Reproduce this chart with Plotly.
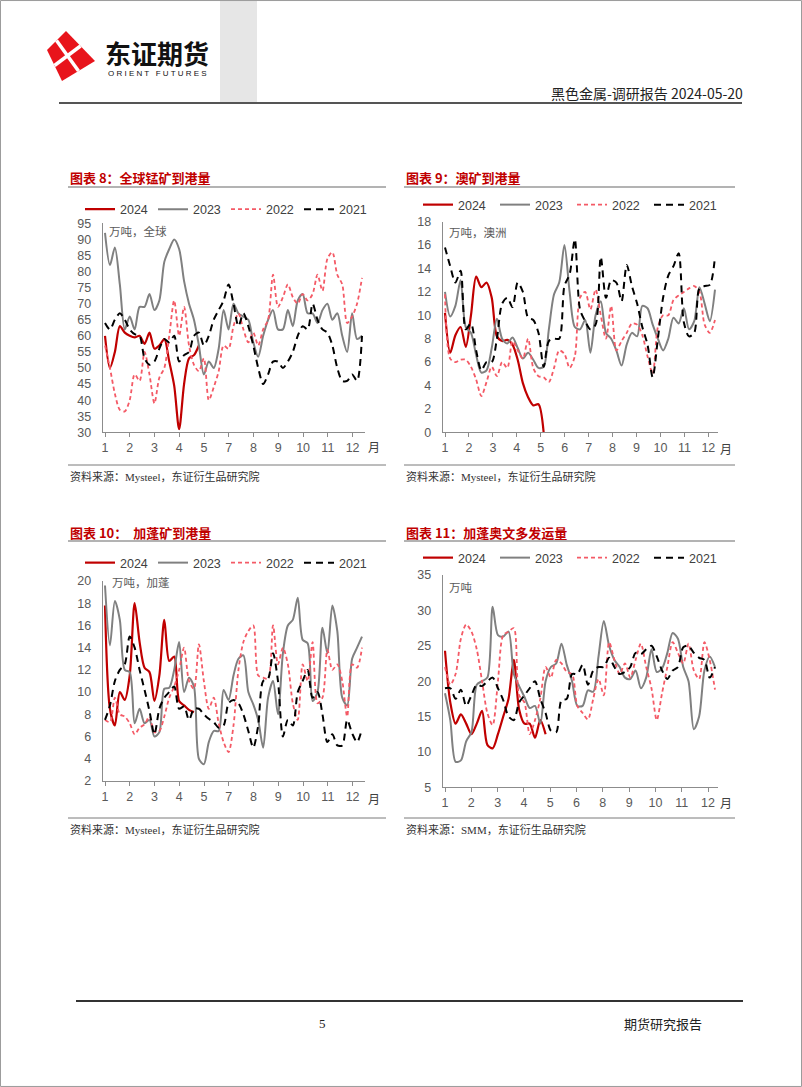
import numpy as np
import plotly.graph_objects as go

W, H = 802, 1087
SERIES = ["2024", "2023", "2022", "2021"]

# ---------------- data ----------------
c1_labels = ["1", "2", "3", "4", "5", "7", "8", "9", "10", "11", "12"]
c1_2024 = [60, 50, 55, 63, 61, 60, 59.5, 60, 57.5, 61, 56, 57, 59, 52, 44.5, 31, 45, 53, 54, 57]
c1_2023 = [92, 82, 87.5, 76, 62, 66, 62, 69, 69, 73,
           68, 71, 83, 87, 90, 87, 77, 70, 65, 57,
           48, 52, 50, 56, 68, 62, 70, 67, 66, 65,
           58, 53.5, 60, 65, 68, 62, 62, 68, 63, 71,
           73, 67, 67, 64, 68, 70, 65, 67, 60, 55,
           67, 59, 60]
c1_2022 = [57, 50, 42, 37, 36.5, 40, 48, 46, 55, 48,
           39, 47, 50, 60, 71, 60, 69, 57, 51, 49,
           53, 40, 44, 49, 57, 56, 63, 67, 62, 58,
           61, 57, 62, 65, 79, 69, 72, 76, 72, 70,
           73, 71, 73, 79, 74, 84, 86, 79, 76, 64,
           66, 70, 78]
c1_2021 = [64, 62, 65, 67, 65, 62, 60.5, 60, 53, 51,
           52, 56, 59, 58, 60, 52, 54, 55, 60, 61,
           57, 60, 65, 68, 71, 76, 70, 63, 67, 63,
           57, 50, 45, 48, 52, 52, 50, 52, 55, 60,
           63, 62, 70, 65, 62, 61, 57, 50, 46, 46,
           48, 46, 60]

c2_labels = ["1", "2", "3", "4", "5", "6", "7", "8", "9", "10", "11", "12"]
c2_2024 = [10.2, 6.8, 8.3, 9, 7.3, 10, 13.3, 12.4, 12.8, 11.5, 8.2, 7.8, 7.9, 7.5, 6.2, 4.2, 3, 2.3, 2.4, 0]
c2_2023 = [12, 9.9, 10.8, 13, 9, 8.5, 6.6, 5.1, 5.3, 7.2,
           9.7, 8, 7.6, 8.1, 7.2, 6.3, 6.8, 6.2, 5.5, 5.6,
           8.8, 11.8, 12.8, 16, 12, 9, 8.8, 9.6, 6.8, 10,
           11.2, 8.5, 8, 7, 5.7, 7.5, 8.5, 8.2, 10.8, 10.6,
           9.2, 8, 7, 8, 9.8, 9.3, 10.6, 8.8, 9.5, 12.4,
           11, 9.5, 12.2]
c2_2022 = [11.8, 6.3, 6, 6.2, 6.2, 5.6, 4.5, 3.1, 4.3, 5.6,
           4.8, 6, 5.5, 7.8, 7, 6.3, 8, 5.5, 4.8, 4.7,
           4.3, 5.5, 7, 6.7, 5.5, 6.5, 11.5, 12, 10.5, 12.2,
           10, 8, 10.8, 7, 7.8, 8.5, 9.3, 9.2, 8.3, 6.5,
           5, 9, 10, 10, 11.3, 11.7, 12, 12.3, 12.5, 12,
           9.2, 8.5, 9.6]
c2_2021 = [15.8, 14.2, 12.8, 13.8, 8.8, 9.3, 7, 5.3, 6, 6,
           8, 11, 11.5, 10.7, 12.8, 12, 9.8, 9.6, 8.5, 5.6,
           7.8, 8, 8, 12.5, 13.5, 16.5, 10.5, 9.5, 8.8, 9.2,
           15, 11.5, 13, 12.8, 11.2, 14.3, 12.5, 11, 9, 7.5,
           4.7, 8, 11.5, 13.4, 14.2, 15.3, 9.4, 8.2, 8.5, 12.3,
           12.5, 12.6, 15]

c3_labels = ["1", "2", "3", "4", "5", "7", "8", "9", "10", "11", "12"]
c3_2024 = [17.8, 8.5, 7, 10, 9.3, 11.5, 18, 14.5, 12.2, 11.8, 9.2, 11.5, 16.5, 12.8, 13.2, 9.2, 8.8, 8.4, 8.2]
c3_2023 = [19.6, 14.2, 18.2, 16.5, 12, 11.8, 7.2, 8.5, 7.2, 7.5,
           6, 6.4, 10.3, 10.4, 12, 14.5, 10, 11.3, 10.5, 4,
           3.5, 5.5, 6.5, 6.5, 10.2, 9.3, 11.5, 13, 13.3, 10,
           8.9, 7.5, 5, 9.5, 11, 8, 13.5, 16, 16.5, 18.5,
           14.7, 14.4, 9.2, 10, 15.8, 13.5, 17.8, 15.5, 9.5, 8.8,
           13, 14, 15]
c3_2022 = [7.5, 7.3, 9.5, 8, 7.8, 7.2, 6.2, 6.8, 7.1, 7.8,
           6.4, 6.5, 7.8, 9.5, 10.5, 12, 14, 11, 10.3, 14.3,
           11, 8.5, 9.5, 7.2, 5.5, 4.6, 7, 12, 14.5, 15.5,
           16, 11.5, 11.3, 11.2, 16, 12.5, 14, 12.5, 9, 7.5,
           12.5, 11, 14.5, 9, 9.5, 13.8, 12, 12.5, 11, 7.8,
           12.5, 12.2, 14]
c3_2021 = [7.5, 8.8, 11, 12, 12.5, 15, 14, 12, 10.2, 8.3,
           6.2, 8.5, 9.5, 10, 10.5, 8.5, 8.7, 7.5, 8.5, 8.5,
           8, 7.6, 7.3, 6.8, 7, 9, 9.3, 9, 8, 6.5,
           5, 7, 11, 11.2, 13.5, 11, 6, 7.5, 7, 10,
           11, 12, 9.5, 10, 8, 5.5, 6.2, 5.2, 5.2, 7.5,
           6.3, 5.5, 6.7]

c4_labels = ["1", "2", "3", "4", "5", "6", "8", "9", "10", "11", "12"]
c4_2024 = [24.3, 17, 14, 15.3, 14, 12.5, 14, 15.8, 11, 10.5, 12.5, 15, 17.5, 23, 16, 14, 14, 12, 14.5, 12.5]
c4_2023 = [18.3, 14.5, 8.6, 8.8, 11.5, 12.8, 19.5, 20, 20.5, 30.5,
           26.5, 26.3, 27, 21, 19.3, 17.8, 16.2, 16.5, 14, 20,
           22, 22.5, 25.3, 22.3, 20, 16.5, 16.5, 18.7, 18.5, 23.5,
           28.5, 25, 23, 22, 20.5, 20.3, 21.5, 19, 20.5, 24.5,
           21.3, 21.8, 24, 26.8, 26, 22, 20, 13.2, 15, 21.5,
           23.5, 22]
c4_2022 = [22, 19.5, 21, 26, 28, 27, 24.5, 20, 15.5, 13.8,
           20, 26.5, 27, 27.5, 18, 17, 12.5, 14.5, 17.5, 22,
           20.5, 23, 22.5, 21.3, 21, 16.5, 15.5, 14.6, 17.5, 20.3,
           18, 25.5, 23, 21, 22.5, 20.5, 23, 25.3, 22, 19,
           14.5, 18.3, 22, 25.5, 24, 22.5, 25.3, 21.5, 20.3, 25.5,
           23, 18.8]
c4_2021 = [19, 19, 17.5, 18.8, 16.5, 18, 19.5, 19.3, 20, 20.5,
           19, 17.3, 15, 14.5, 17, 18, 19, 20, 17.5, 15.5,
           13, 12.8, 17.3, 17.5, 21, 21, 22.3, 19.5, 21.5, 22,
           22, 23.3, 22, 21, 21.3, 22, 24, 23.8, 24.5, 25,
           23.5, 21.5, 20.3, 21.5, 22, 24.8, 25, 24, 23.3, 23,
           20.5, 22]

titles = ["图表 8：全球锰矿到港量", "图表 9：澳矿到港量", "图表 10：  加蓬矿到港量", "图表 11：加蓬奥文多发运量"]
sources = ["资料来源：Mysteel，东证衍生品研究院", "资料来源：Mysteel，东证衍生品研究院",
           "资料来源：Mysteel，东证衍生品研究院", "资料来源：SMM，东证衍生品研究院"]
units = ["万吨，全球", "万吨，澳洲", "万吨，加蓬", "万吨"]


def px(x):
    return x / W


def py(y):
    return 1 - y / H


STY = {
    "2024": dict(color="#C00000", width=2.2),
    "2023": dict(color="#808080", width=2.0),
    "2022": dict(color="#F45A66", width=1.8, dash="4px,3px"),
    "2021": dict(color="#000000", width=2.0, dash="7px,5px"),
}

# layout geometry (pixels)
charts = [
    dict(series=[c1_2024, c1_2023, c1_2022, c1_2021], labels=c1_labels, npts=53,
         xl=102.7, xr=365, x0=105, x1=362, lab_sp=24.76, yt=223.3, yb=432.3,
         yr=(30, 95), dt=5, leg=(80, 209.5), ew=28, unit=(107, 231), month=(366, 446)),
    dict(series=[c2_2024, c2_2023, c2_2022, c2_2021], labels=c2_labels, npts=53,
         xl=442.7, xr=718, x0=445, x1=715, lab_sp=23.94, yt=221.7, yb=432.3,
         yr=(0, 18), dt=2, leg=(418, 205), ew=32, unit=(447, 232), month=(718, 448)),
    dict(series=[c3_2024, c3_2023, c3_2022, c3_2021], labels=c3_labels, npts=53,
         xl=102.7, xr=365, x0=105, x1=362, lab_sp=24.76, yt=581, yb=781,
         yr=(2, 20), dt=2, leg=(80, 563), ew=28, unit=(110, 582), month=(366, 798)),
    dict(series=[c4_2024, c4_2023, c4_2022, c4_2021], labels=c4_labels, npts=52,
         xl=442.7, xr=718, x0=445, x1=715, lab_sp=26.3, yt=575, yb=787.3,
         yr=(5, 35), dt=5, leg=(418, 558), ew=32, unit=(447, 587), month=(718, 802)),
]

fig = go.Figure()
TICKFONT = dict(family="Liberation Sans, Arial", size=12.5, color="#595959")
layout = dict(width=W, height=H, autosize=False,
              margin=dict(l=0, r=0, t=0, b=0, pad=0, autoexpand=False),
              paper_bgcolor="white", plot_bgcolor="rgba(0,0,0,0)", showlegend=True)
annotations = []
shapes = []

for k, c in enumerate(charts, start=1):
    sfx = "" if k == 1 else str(k)
    step = (c["x1"] - c["x0"]) / (c["npts"] - 1)
    xr = [(c["xl"] - c["x0"]) / step, (c["xr"] - c["x0"]) / step]
    lab_step = c["lab_sp"] / step
    tickvals = [i * lab_step for i in range(len(c["labels"]))]
    legname = "legend" + sfx
    for name, vals in zip(SERIES, c["series"]):
        x = np.arange(len(vals))
        fig.add_trace(go.Scatter(x=x, y=vals, mode="lines", name=name,
                                 line=dict(shape="spline", smoothing=0.8, **STY[name]),
                                 xaxis="x" + sfx, yaxis="y" + sfx, legend=legname,
                                 hoverinfo="skip", cliponaxis=True))
    layout["xaxis" + sfx] = dict(domain=[px(c["xl"]), px(c["xr"])], range=xr, anchor="y" + sfx,
                                 tickvals=tickvals, ticktext=c["labels"], showline=True,
                                 linecolor="#8C8C8C", linewidth=1, ticks="outside", ticklen=4,
                                 tickcolor="#8C8C8C", showgrid=False, zeroline=False,
                                 tickfont=TICKFONT, fixedrange=True, automargin=False)
    layout["yaxis" + sfx] = dict(domain=[py(c["yb"]), py(c["yt"])], range=list(c["yr"]),
                                 anchor="x" + sfx, dtick=c["dt"], tick0=c["yr"][0],
                                 showline=True, linecolor="#8C8C8C", linewidth=1, ticks="",
                                 showgrid=False, zeroline=False, tickfont=TICKFONT,
                                 ticklabelstandoff=8, fixedrange=True, automargin=False)
    layout[legname] = dict(x=px(c["leg"][0]), y=py(c["leg"][1]), xanchor="left", yanchor="middle",
                           orientation="h", bgcolor="rgba(0,0,0,0)", borderwidth=0,
                           font=dict(family="Liberation Sans, Arial", size=12.5, color="#404040"),
                           entrywidth=c["ew"], entrywidthmode="pixels", itemwidth=30,
                           traceorder="normal", tracegroupgap=0)
    annotations.append(dict(text=units[k - 1], x=px(c["unit"][0]), y=py(c["unit"][1]),
                            xref="paper", yref="paper", xanchor="left", yanchor="middle",
                            showarrow=False,
                            font=dict(family="Noto Sans CJK SC", size=11.5, color="#595959")))
    annotations.append(dict(text="月", x=px(c["month"][0]), y=py(c["month"][1]),
                            xref="paper", yref="paper", xanchor="left", yanchor="middle",
                            showarrow=False,
                            font=dict(family="Noto Sans CJK SC", size=12, color="#404040")))

# panel titles, underlines, sources
panel_x = [(68, 386), (404, 735), (68, 386), (404, 735)]
title_y = [178, 178, 532, 532]
tline_y = [187, 187, 541, 541]
sline_y = [465, 465, 818, 818]
src_y = [476, 476, 829, 829]
for i in range(4):
    x0, x1 = panel_x[i]
    annotations.append(dict(text="<b>" + titles[i] + "</b>", x=px(x0), y=py(title_y[i]),
                            xref="paper", yref="paper", xanchor="left", yanchor="middle",
                            showarrow=False,
                            font=dict(family="Noto Sans CJK SC", size=13, color="#C00000")))
    shapes.append(dict(type="line", xref="paper", yref="paper", x0=px(x0), x1=px(x1),
                       y0=py(tline_y[i]), y1=py(tline_y[i]), line=dict(color="#9A9A9A", width=1.5)))
    shapes.append(dict(type="line", xref="paper", yref="paper", x0=px(x0), x1=px(x1),
                       y0=py(sline_y[i]), y1=py(sline_y[i]), line=dict(color="#7A7A7A", width=1)))
    annotations.append(dict(text=sources[i], x=px(x0), y=py(src_y[i]),
                            xref="paper", yref="paper", xanchor="left", yanchor="middle",
                            showarrow=False,
                            font=dict(family="Liberation Serif, Noto Sans CJK SC", size=11, color="#333333")))

# header
shapes.append(dict(type="rect", xref="paper", yref="paper", x0=px(220), x1=px(257),
                   y0=py(103), y1=py(0), fillcolor="#E6E6E6", line=dict(width=0), layer="below"))
shapes.append(dict(type="line", xref="paper", yref="paper", x0=px(59), x1=px(742),
                   y0=py(103), y1=py(103), line=dict(color="#555555", width=2)))


def path(points):
    return "M " + " L ".join(f"{px(a):.5f},{py(b):.5f}" for a, b in points) + " Z"


top, right, bottom, left = (66, 31), (95, 61), (62, 81), (47, 50)
shapes.append(dict(type="path", xref="paper", yref="paper", path=path([top, right, bottom, left]),
                   fillcolor="#E8141B", line=dict(width=0)))
mid = lambda a, b: ((a[0] + b[0]) / 2, (a[1] + b[1]) / 2)
for a, b in [(mid(top, right), mid(bottom, left)), (mid(left, top), mid(right, bottom))]:
    shapes.append(dict(type="line", xref="paper", yref="paper", x0=px(a[0]), y0=py(a[1]),
                       x1=px(b[0]), y1=py(b[1]), line=dict(color="white", width=3.5)))
annotations.append(dict(text="<b>东证期货</b>", x=px(103), y=py(52), xref="paper", yref="paper",
                        xanchor="left", yanchor="middle", showarrow=False,
                        font=dict(family="Noto Sans CJK SC", size=26, color="#111111")))
annotations.append(dict(text="O R I E N T   F U T U R E S", x=px(106), y=py(74), xref="paper", yref="paper",
                        xanchor="left", yanchor="middle", showarrow=False,
                        font=dict(family="Liberation Sans, Arial", size=8, color="#111111")))
annotations.append(dict(text="黑色金属-调研报告 2024-05-20", x=px(745), y=py(93), xref="paper", yref="paper",
                        xanchor="right", yanchor="middle", showarrow=False,
                        font=dict(family="Noto Sans CJK SC", size=14, color="#222222")))

# footer
shapes.append(dict(type="line", xref="paper", yref="paper", x0=px(76), x1=px(743),
                   y0=py(1001), y1=py(1001), line=dict(color="#333333", width=2)))
annotations.append(dict(text="5", x=px(322), y=py(1023), xref="paper", yref="paper",
                        xanchor="center", yanchor="middle", showarrow=False,
                        font=dict(family="Liberation Serif", size=13, color="#222222")))
annotations.append(dict(text="期货研究报告", x=px(663), y=py(1023), xref="paper", yref="paper",
                        xanchor="center", yanchor="middle", showarrow=False,
                        font=dict(family="Noto Sans CJK SC", size=13, color="#222222")))
# page border
shapes.append(dict(type="rect", xref="paper", yref="paper", x0=0.0006, x1=0.9994, y0=0.0005, y1=0.9995,
                   line=dict(color="#9A9A9A", width=1)))

layout["annotations"] = annotations
layout["shapes"] = shapes
fig.update_layout(**layout)
fig.write_html("out.html",
               config={"displayModeBar": False, "responsive": False},
               post_script="document.body.style.margin='0';document.body.style.overflow='hidden';")
